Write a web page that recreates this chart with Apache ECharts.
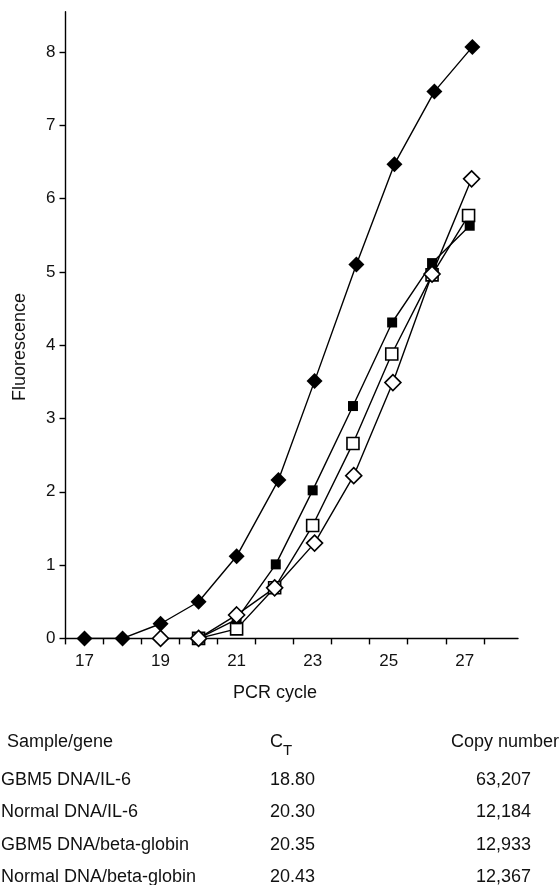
<!DOCTYPE html>
<html>
<head>
<meta charset="utf-8">
<script src="https://cdn.jsdelivr.net/npm/echarts@6/dist/echarts.min.js"></script>
<style>
  html, body { margin: 0; padding: 0; background: #fff; }
  #chart { width: 560px; height: 885px; }
</style>
</head>
<body>
<div id="chart"></div>
<script>
// PCR amplification curves
var gbmIl6Cycle = [17, 18, 19, 20, 21, 22.1, 23.05, 24.15, 25.15, 26.2, 27.2];
var gbmIl6Fluor = [0, 0, 0.2, 0.5, 1.12, 2.16, 3.51, 5.1, 6.47, 7.46, 8.07];

var normIl6Cycle = [20, 21, 22.03, 23, 24.06, 25.09, 26.14, 27.13];
var normIl6Fluor = [0, 0.26, 1.01, 2.02, 3.17, 4.31, 5.12, 5.63];

var gbmBgCycle = [20, 21, 22, 23, 24.06, 25.08, 26.14, 27.1];
var gbmBgFluor = [0, 0.13, 0.69, 1.54, 2.66, 3.88, 4.96, 5.77];

var normBgCycle = [19, 20, 21, 22, 23.05, 24.08, 25.11, 26.14, 27.18];
var normBgFluor = [0, 0, 0.32, 0.69, 1.3, 2.22, 3.49, 4.97, 6.27];

// axis ticks / labels
var xTickValues = [16.5, 17.5, 18.5, 19.5, 20.5, 21.5, 22.5, 23.5, 24.5, 25.5, 26.5, 27.5];
var xLabelValues = [17, 19, 21, 23, 25, 27];
var yTickValues = [0, 1, 2, 3, 4, 5, 6, 7, 8];

// table under the chart
var tableSamples = ['GBM5 DNA/IL-6', 'Normal DNA/IL-6', 'GBM5 DNA/beta-globin', 'Normal DNA/beta-globin'];
var tableCt = ['18.80', '20.30', '20.35', '20.43'];
var tableCopies = ['63,207', '12,184', '12,933', '12,367'];

var FONT = '"Liberation Sans", Arial, sans-serif';

function zip(xs, ys) {
  return xs.map(function (x, i) { return [x, ys[i]]; });
}

function makeSeries(name, xs, ys, symbol, size, filled) {
  return {
    name: name,
    type: 'line',
    data: zip(xs, ys),
    symbol: symbol,
    symbolSize: size,
    showAllSymbol: true,
    animation: false,
    lineStyle: { color: '#000', width: 1.4 },
    itemStyle: {
      color: filled ? '#000' : '#fff',
      borderColor: '#000',
      borderWidth: filled ? 0 : 1.6
    },
    emphasis: { disabled: true }
  };
}

function txt(str, x, y, size, align) {
  return {
    type: 'text', x: x, y: y,
    style: { text: str, font: size + 'px ' + FONT, fill: '#111',
      align: align, verticalAlign: 'middle', textAlign: align, textVerticalAlign: 'middle' }
  };
}

var chart = echarts.init(document.getElementById('chart'), null, { renderer: 'canvas' });

var yName = txt('Fluorescence', 20, 347, 18, 'center');
yName.rotation = Math.PI / 2;

var graphics = [
  yName,
  txt('PCR cycle', 275, 693, 18, 'center'),
  txt('Sample/gene', 7, 742, 18, 'left'),
  txt('C', 270, 742, 18, 'left'),
  txt('T', 283, 751, 15, 'left'),
  txt('Copy number', 559, 742, 18, 'right')
];

var rowY = [780, 812.5, 845, 877];
tableSamples.forEach(function (s, i) {
  graphics.push(txt(s, 1, rowY[i], 18, 'left'));
  graphics.push(txt(tableCt[i], 270, rowY[i], 18, 'left'));
  graphics.push(txt(tableCopies[i], 531, rowY[i], 18, 'right'));
});

var option = {
  backgroundColor: '#fff',
  animation: false,
  grid: { left: 65.5, top: 11.7, width: 452.5, height: 626.7, containLabel: false },
  xAxis: {
    type: 'value',
    min: 16.5,
    max: 28.4,
    splitLine: { show: false },
    axisLine: { show: true, onZero: false, lineStyle: { color: '#000', width: 1.4 } },
    axisTick: { show: true, length: 6, customValues: xTickValues, lineStyle: { color: '#000', width: 1.4 } },
    axisLabel: { customValues: xLabelValues, margin: 14, fontSize: 17, fontFamily: FONT, color: '#111' }
  },
  yAxis: {
    type: 'value',
    min: 0,
    max: 8.55,
    splitLine: { show: false },
    axisLine: { show: true, lineStyle: { color: '#000', width: 1.4 } },
    axisTick: { show: true, length: 6, customValues: yTickValues, lineStyle: { color: '#000', width: 1.4 } },
    axisLabel: { customValues: yTickValues, margin: 10, fontSize: 17, fontFamily: FONT, color: '#111' }
  },
  series: [
    makeSeries('GBM5 DNA/IL-6', gbmIl6Cycle, gbmIl6Fluor, 'diamond', 16, true),
    makeSeries('GBM5 DNA/beta-globin', gbmBgCycle, gbmBgFluor, 'rect', 12, false),
    makeSeries('Normal DNA/IL-6', normIl6Cycle, normIl6Fluor, 'rect', 10, true),
    makeSeries('Normal DNA/beta-globin', normBgCycle, normBgFluor, 'diamond', 16, false)
  ],
  graphic: graphics
};

chart.setOption(option);
</script>
</body>
</html>
